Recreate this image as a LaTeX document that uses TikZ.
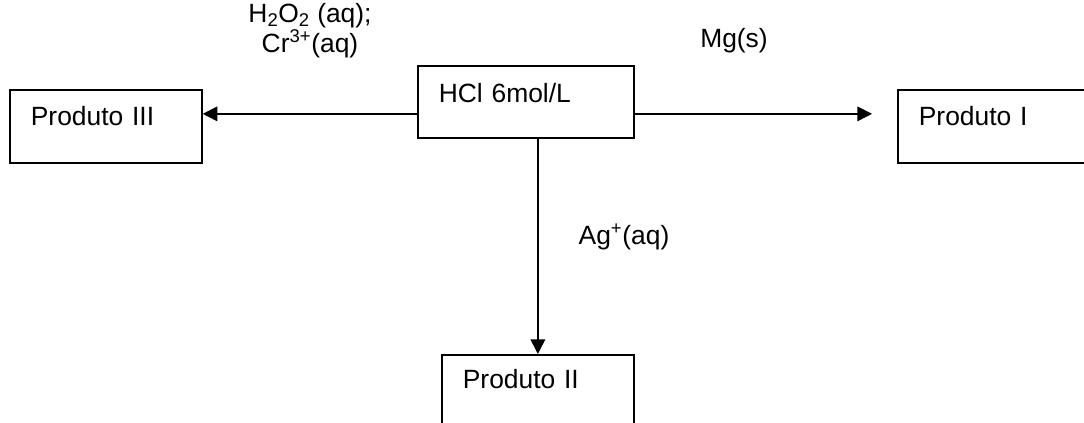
\documentclass[tikz,border=0pt]{standalone}
\usepackage{fontspec}
\setmainfont{Liberation Sans}
\usetikzlibrary{arrows.meta, positioning}

\tikzset{
    prodbox/.style={draw, line width=1.3pt, anchor=north west,
        inner xsep=15.75pt, inner ysep=0pt, text width=112.5pt, align=left,
        text height=27pt, text depth=27.75pt},
    reag/.style={line width=1.2pt, -{Triangle[length=11pt, width=11pt]}},
    reaglabel/.style={anchor=base, align=center},
}

\begin{document}
\begin{tikzpicture}[x=0.75pt, y=-0.75pt,
    font=\fontsize{19.8pt}{23.8pt}\selectfont,
]
\useasboundingbox (0,0) rectangle (1084,423);
\clip (0,0) rectangle (1084,423);

\node (hcl) [prodbox, text width=130.5pt, text height=27.75pt, text depth=26.25pt]
    at (417,65) {HCl 6mol/L};
\node (p3) [prodbox] at (9,89) {Produto III};
\node (p1) [prodbox] at (897,89) {Produto I};
\node (p2) [prodbox, text height=25.5pt, text depth=29.25pt] at (441,354) {Produto II};

% reagents
\node (ox) [reaglabel] at (310,53)
    {H\textsubscript{2}O\textsubscript{2} (aq);\\[-0.75pt]Cr\textsuperscript{3+}(aq)};
\node (mg) [reaglabel] at (734,48) {Mg(s)};
\node (ag) [reaglabel] at (624,245) {Ag\textsuperscript{+}(aq)};

\draw[reag] ([yshift=-9pt]hcl.west) -- ([yshift=-9pt]hcl.west -| p3.east);
\draw[reag, shorten >=18.75pt] ([yshift=-9pt]hcl.east) -- ([yshift=-9pt]hcl.east -| p1.west);
\draw[reag] (hcl.south -| p2.north) -- (p2.north);
\end{tikzpicture}
\end{document}
